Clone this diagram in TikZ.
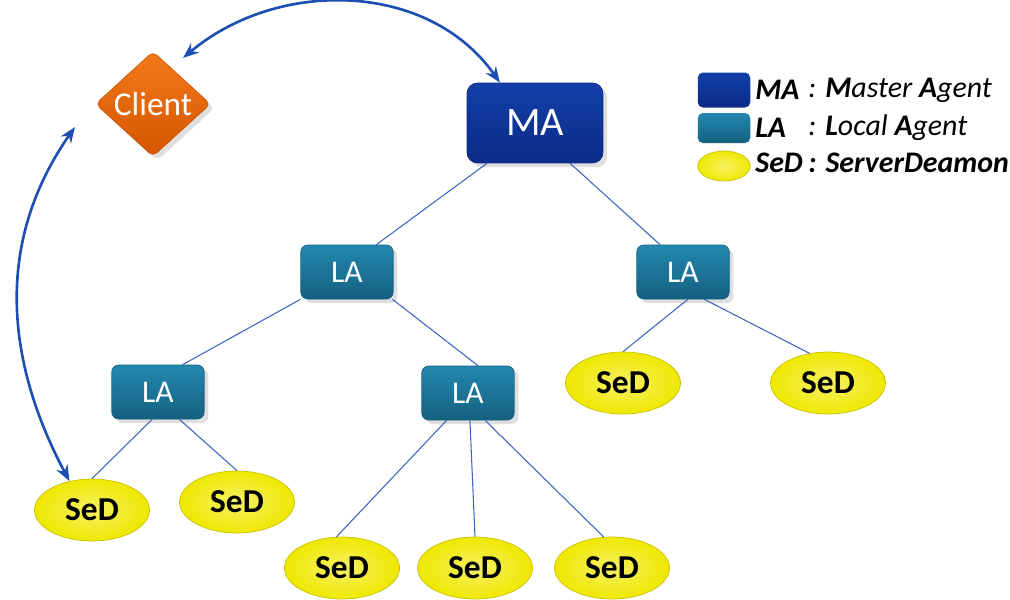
\documentclass[tikz,border=0pt]{standalone}
\usepackage{fontspec}
\setmainfont{Carlito}
\usetikzlibrary{shapes.geometric,arrows.meta,shadows}
\definecolor{madark}{HTML}{0A2A86}
\definecolor{matop}{HTML}{1240A8}
\definecolor{latop}{HTML}{2388B0}
\definecolor{ladark}{HTML}{15607F}
\definecolor{sedfill}{HTML}{EFE800}
\definecolor{sedline}{HTML}{C9C100}
\definecolor{cltop}{HTML}{F37A1A}
\definecolor{cldark}{HTML}{D45500}
\definecolor{linkblue}{HTML}{3A64BE}
\definecolor{arrblue}{HTML}{1D4FB2}
\tikzset{
  master/.style={rectangle,rounded corners=6pt,top color=matop,bottom color=madark,
    draw=madark,minimum width=2.72cm,minimum height=1.6cm,text=white,
    font=\fontsize{23}{23}\selectfont,drop shadow={opacity=0.25}},
  local/.style={rectangle,rounded corners=4pt,top color=latop,bottom color=ladark,
    draw=ladark,minimum width=1.85cm,minimum height=1.08cm,text=white,
    font=\fontsize{18}{18}\selectfont,drop shadow={opacity=0.25}},
  server/.style={ellipse,inner color=sedfill!60!white,outer color=sedfill,draw=sedline,
    minimum width=2.3cm,minimum height=1.24cm,
    font=\bfseries\fontsize{19}{19}\selectfont},
  client/.style={diamond,rounded corners=3pt,top color=cltop,bottom color=cldark,draw=cldark,
    minimum width=2.3cm,minimum height=2.1cm,inner sep=0pt,text=white,
    font=\fontsize{19}{19}\selectfont,drop shadow={opacity=0.25}},
  link/.style={draw=linkblue,line width=0.6pt},
  arr/.style={draw=arrblue,line width=1.5pt,{Stealth[length=9pt,width=7pt]}-{Stealth[length=9pt,width=7pt]}},
  legtext/.style={anchor=west,inner sep=0pt,font=\itshape\fontsize{17}{17}\selectfont}
}
\begin{document}
\begin{tikzpicture}[x=0.02cm,y=-0.02cm]
\useasboundingbox (0,0) rectangle (1010,599);
% nodes
\node[client] (client) at (153,104) {Client};
\node[master] (ma) at (535,123) {MA};
\node[local] (la1) at (347,272) {LA};
\node[local] (la2) at (683,272) {LA};
\node[local] (la3) at (158,392) {LA};
\node[local] (la4) at (468,393) {LA};
\node[server] (sed1) at (92,510) {SeD};
\node[server] (sed2) at (237,502) {SeD};
\node[server] (sed3) at (623,383) {SeD};
\node[server] (sed4) at (828,383) {SeD};
\node[server] (sed5) at (342,568) {SeD};
\node[server] (sed6) at (475,568) {SeD};
\node[server] (sed7) at (612,568) {SeD};
% tree links
\draw[link] (ma.220) -- (la1.43) (ma.-49) -- (la2.130);
\draw[link] (la1.south west) -- (la3.48) (la1.-31) -- (la4.70);
\draw[link] (la2.-80) -- (sed3.north) (la2.-52) -- (sed4.122);
\draw[link] (la3.-102) -- (sed1.north) (la3.-52) -- (sed2.north);
\draw[link] (la4.-128) -- (sed5.100) (la4.-86) -- (sed6.north) (la4.-58) -- (sed7.105);
% client arrows
\coordinate (cl1) at (183,58);
\coordinate (cl2) at (75,127);
\draw[arr] (cl1) to[out=40,in=125] (ma.131);
\draw[arr] (cl2) to[out=235,in=118] (sed1.128);
% legend
\node[rectangle,rounded corners=3pt,top color=matop,bottom color=madark,minimum width=1.05cm,minimum height=0.7cm] (lgma) at (724,90) {};
\node[rectangle,rounded corners=3pt,top color=latop,bottom color=ladark,minimum width=1.05cm,minimum height=0.6cm] (lgla) at (724,128) {};
\node[ellipse,inner color=sedfill!60!white,outer color=sedfill,draw=sedline,minimum width=1.05cm,minimum height=0.6cm] (lgsed) at (724,166) {};
\node[legtext] (kma) at (755,90) {\bfseries MA};
\node[legtext] (kla) at (755,128) {\bfseries LA};
\node[legtext] (ksed) at (755,163) {\bfseries SeD};
\node[legtext] (dma) at (808,90) {: \textbf{M}aster \textbf{A}gent};
\node[legtext] (dla) at (808,128) {: \textbf{L}ocal \textbf{A}gent};
\node[legtext] (dsed) at (808,163) {\bfseries : ServerDeamon};
\end{tikzpicture}
\end{document}
